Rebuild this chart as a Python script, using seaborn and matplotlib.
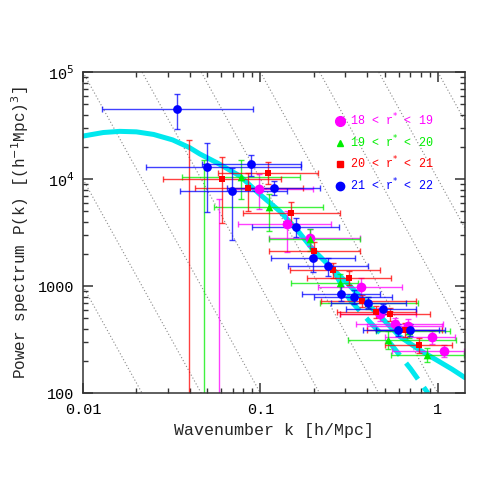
import numpy as np
import matplotlib
matplotlib.use("Agg")
import matplotlib.pyplot as plt
import pandas as pd
import seaborn as sns
from matplotlib.lines import Line2D
from matplotlib.ticker import LogLocator, FixedLocator, FixedFormatter, NullFormatter

# ---- model curve (cyan) ----
model_k = [0.010, 0.013, 0.0161, 0.020, 0.025, 0.032, 0.0399, 0.0456, 0.058, 0.0767,
           0.0994, 0.129, 0.160, 0.198, 0.255, 0.30, 0.38, 0.48, 0.611, 0.80, 1.0, 1.2, 1.42]
model_P = [25300, 27300, 28000, 27700, 26200, 23300, 19700, 17200, 14000, 10700,
           7200, 5000, 3400, 2190, 1450, 1120, 747, 510, 338, 250, 201, 168, 140]
linear_k = [0.255, 0.319, 0.42, 0.537, 0.70, 0.879]
linear_P = [1450, 747, 450, 295, 170, 100]

# dotted guide lines: k^3 P = const
guide_levels = [1e-3, 1e-2, 1e-1, 1e0, 1e1, 1e2, 1e3, 1e4, 1e5]

# ---- data: 18 < r* < 19 (magenta) ----
m_k = [0.0584, 0.098, 0.142, 0.19, 0.368, 0.47, 0.575, 0.677, 0.929, 1.077]
m_P = [60, 8070, 3800, 2850, 991, 546, 444, 427, 333, 250]
m_Plo = [10, 5250, 2100, 2400, 800, 470, 390, 370, 290, 220]
m_Phi = [6600, 11300, 5000, 3400, 1200, 630, 510, 490, 380, 285]
m_klo = [0.03, 0.069, 0.075, 0.112, 0.21, 0.28, 0.345, 0.40, 0.50, 0.55]
m_khi = [0.11, 0.198, 0.25, 0.363, 0.63, 0.75, 1.07, 1.05, 1.24, 1.40]

# ---- data: 19 < r* < 20 (green) ----
g_k = [0.0479, 0.0772, 0.1117, 0.19, 0.279, 0.405, 0.525, 0.69, 0.863]
g_P = [60, 10600, 5470, 2750, 1070, 705, 316, 383, 228]
g_Plo = [10, 6600, 3310, 2150, 860, 610, 260, 330, 195]
g_Phi = [15100, 15100, 7310, 3400, 1300, 800, 380, 440, 265]
g_klo = [0.025, 0.0363, 0.055, 0.112, 0.149, 0.216, 0.31, 0.45, 0.545]
g_khi = [0.09, 0.167, 0.224, 0.363, 0.355, 0.77, 1.27, 1.17, 1.40]

# ---- data: 20 < r* < 21 (red) ----
r_k = [0.0396, 0.0607, 0.085, 0.1107, 0.148, 0.20, 0.256, 0.315, 0.373, 0.45, 0.534, 0.649, 0.778]
r_P = [60, 10000, 8300, 11500, 4870, 2150, 1420, 1200, 733, 575, 546, 391, 283]
r_Plo = [10, 3930, 5010, 9000, 3800, 1750, 1200, 1020, 640, 500, 470, 335, 240]
r_Phi = [23300, 16000, 11500, 14600, 6100, 2600, 1650, 1400, 830, 650, 620, 450, 330]
r_klo = [0.02, 0.0282, 0.0427, 0.0577, 0.08, 0.112, 0.147, 0.182, 0.22, 0.27, 0.28, 0.40, 0.50]
r_khi = [0.08, 0.131, 0.174, 0.21, 0.28, 0.363, 0.47, 0.545, 0.756, 0.756, 0.90, 1.05, 1.20]

# ---- data: 21 < r* < 22 (blue) ----
b_k = [0.034, 0.0497, 0.0889, 0.069, 0.1186, 0.158, 0.198, 0.24, 0.283, 0.337, 0.405, 0.49, 0.596, 0.693]
b_P = [45400, 13100, 13800, 7800, 8300, 3600, 1830, 1550, 847, 800, 703, 614, 391, 391]
b_Plo = [29500, 4900, 10700, 2710, 7160, 2910, 1370, 1250, 724, 690, 620, 545, 345, 345]
b_Phi = [62000, 21700, 17000, 12800, 9680, 4320, 2270, 1830, 1000, 930, 800, 690, 445, 445]
b_klo = [0.0128, 0.0227, 0.0466, 0.0352, 0.0644, 0.0892, 0.115, 0.143, 0.171, 0.20, 0.25, 0.303, 0.378, 0.45]
b_khi = [0.0908, 0.17, 0.17, 0.142, 0.216, 0.278, 0.34, 0.405, 0.47, 0.55, 0.66, 0.756, 1.02, 1.10]

series = [
    ("18 < r* < 19", "#ff00ff", "o", 7.0, 7.0, m_k, m_P, m_Plo, m_Phi, m_klo, m_khi),
    ("19 < r* < 20", "#00ee00", "^", 5.5, 5.0, g_k, g_P, g_Plo, g_Phi, g_klo, g_khi),
    ("20 < r* < 21", "#ff0000", "s", 5.0, 4.5, r_k, r_P, r_Plo, r_Phi, r_klo, r_khi),
    ("21 < r* < 22", "#0000ff", "o", 6.3, 6.0, b_k, b_P, b_Plo, b_Phi, b_klo, b_khi),
]

sns.set_style("ticks")
plt.rcParams["font.family"] = ["Liberation Mono", "DejaVu Sans Mono"]

fig = plt.figure(figsize=(4.91, 4.91), dpi=100)
ax = fig.add_axes([0.169, 0.199, 0.778, 0.654])
ax.set_xscale("log")
ax.set_yscale("log")
ax.set_xlim(0.01, 1.42)
ax.set_ylim(100, 1e5)

for c in guide_levels:
    ax.axline((0.01, c / 1e-6), (1.0, c), color="#888888", ls=(0, (1, 2)), lw=0.8, zorder=0)

model = pd.DataFrame({"k": model_k, "P": model_P})
lin = pd.DataFrame({"k": linear_k, "P": linear_P})
sns.lineplot(data=model, x="k", y="P", ax=ax, color="#00e8ee", lw=3.6, zorder=1)
sns.lineplot(data=lin, x="k", y="P", ax=ax, color="#00e8ee", lw=3.6, zorder=1,
             dashes=False, linestyle=(0, (4, 2)))

handles = []
for label, col, mk, ms, lms, k, P, Plo, Phi, klo, khi in series:
    k = np.array(k); P = np.array(P)
    yerr = [P - np.array(Plo), np.array(Phi) - P]
    xerr = [k - np.array(klo), np.array(khi) - k]
    ax.errorbar(k, P, xerr=xerr, yerr=yerr, fmt="none", ecolor=col, elinewidth=1.0,
                capsize=2.2, capthick=1.0, alpha=0.75, zorder=2)
    df = pd.DataFrame({"k": k, "P": P})
    sns.scatterplot(data=df, x="k", y="P", ax=ax, color=col, marker=mk, s=ms ** 2,
                    linewidth=0, zorder=3)
    handles.append(Line2D([], [], ls="none", marker=mk, color=col, markersize=lms,
                          label=label.replace("r*", "r$^{*}$")))

leg = ax.legend(handles=handles, loc="upper left", bbox_to_anchor=(0.63, 0.91),
                frameon=False, fontsize=8.5, labelcolor="linecolor",
                handletextpad=0.3, handlelength=1.0, labelspacing=0.42)

ax.xaxis.set_major_locator(FixedLocator([0.01, 0.1, 1]))
ax.xaxis.set_major_formatter(FixedFormatter(["0.01", "0.1", "1"]))
ax.xaxis.set_minor_locator(LogLocator(base=10, subs=np.arange(2, 10)))
ax.xaxis.set_minor_formatter(NullFormatter())
ax.yaxis.set_major_locator(FixedLocator([100, 1000, 1e4, 1e5]))
ax.yaxis.set_major_formatter(FixedFormatter(["100", "1000", "10$^4$", "10$^5$"]))
ax.yaxis.set_minor_locator(LogLocator(base=10, subs=np.arange(2, 10)))
ax.yaxis.set_minor_formatter(NullFormatter())
ax.tick_params(which="both", direction="in", top=True, right=True, colors="#333333",
               labelcolor="black", labelsize=11)
ax.tick_params(axis="x", which="major", pad=7)
ax.tick_params(axis="y", which="major", pad=6)
ax.tick_params(which="major", length=7, width=1.1)
ax.tick_params(which="minor", length=3.5, width=1.0)
for s in ax.spines.values():
    s.set_linewidth(1.1)
    s.set_color("#333333")

ax.set_xlabel("Wavenumber k [h/Mpc]", fontsize=12, labelpad=4)
ax.set_ylabel("Power spectrum P(k) [(h$^{-1}$Mpc)$^3$]", fontsize=11.5, labelpad=5)

fig.savefig("out.png", dpi=100)
